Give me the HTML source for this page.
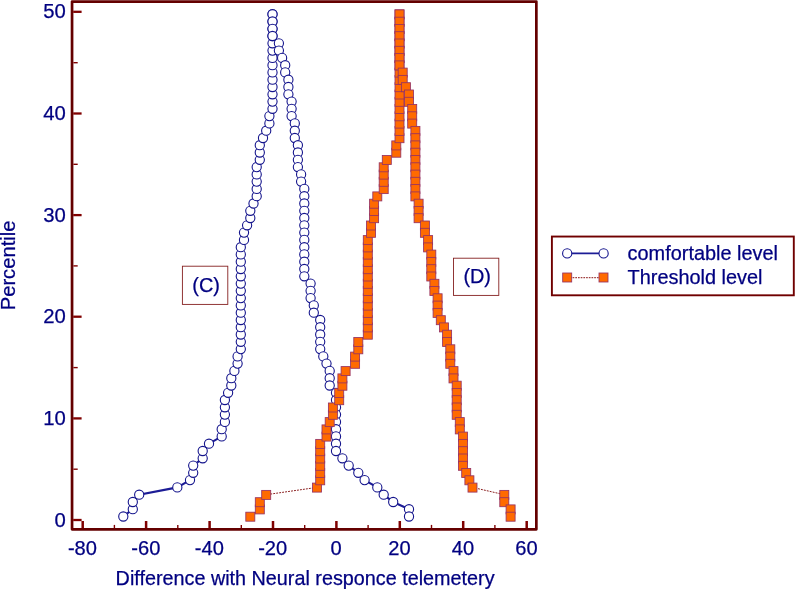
<!DOCTYPE html>
<html><head><meta charset="utf-8"><title>Percentile plot</title>
<style>html,body{margin:0;padding:0;background:#fff}svg{display:block}</style></head>
<body>
<svg width="795" height="589" viewBox="0 0 795 589" font-family="'Liberation Sans', Arial, sans-serif" font-size="19.9px" fill="#000080" stroke="#000080" stroke-width="0">
<rect width="795" height="589" fill="#fff"/>
<polyline fill="none" stroke="#1c1c96" stroke-width="2.1" points="123.3,516.5 132.8,509.2 132.8,502.0 139.2,494.7 177.3,487.4 190.0,480.1 193.2,472.8 193.2,465.6 202.7,458.3 202.7,451.0 209.0,443.7 221.7,436.4 221.7,429.2 224.9,421.9 224.9,414.6 224.9,407.3 224.9,400.0 228.1,392.8 231.3,385.5 231.3,378.2 234.4,370.9 237.6,363.6 237.6,356.4 240.8,349.1 240.8,341.8 240.8,334.5 240.8,327.2 240.8,320.0 240.8,312.7 240.8,305.4 240.8,298.1 240.8,290.8 240.8,283.6 240.8,276.3 240.8,269.0 240.8,261.7 240.8,254.4 240.8,247.2 244.0,239.9 244.0,232.6 247.1,225.3 250.3,218.0 250.3,210.8 253.5,203.5 256.7,196.2 256.7,188.9 256.7,181.6 256.7,174.4 256.7,167.1 259.8,159.8 259.8,152.5 259.8,145.2 263.0,138.0 266.2,130.7 269.4,123.4 269.4,116.1 272.5,108.8 272.5,101.6 272.5,94.3 272.5,87.0 272.5,79.7 272.5,72.4 272.5,65.2 272.5,57.9 272.5,50.6 272.5,43.3 272.5,36.0 272.5,28.8 272.5,21.5 272.5,14.2 272.5,14.2 272.5,21.5 272.5,28.8 272.5,36.0 278.9,43.3 278.9,50.6 282.1,57.9 285.2,65.2 285.2,72.4 288.4,79.7 288.4,87.0 288.4,94.3 291.6,101.6 291.6,108.8 291.6,116.1 294.8,123.4 294.8,130.7 294.8,138.0 297.9,145.2 297.9,152.5 297.9,159.8 297.9,167.1 301.1,174.4 301.1,181.6 304.3,188.9 304.3,196.2 304.3,203.5 304.3,210.8 304.3,218.0 304.3,225.3 304.3,232.6 304.3,239.9 304.3,247.2 304.3,254.4 304.3,261.7 304.3,269.0 304.3,276.3 310.6,283.6 310.6,290.8 310.6,298.1 313.8,305.4 313.8,312.7 320.2,320.0 320.2,327.2 320.2,334.5 320.2,341.8 320.2,349.1 323.3,356.4 326.5,363.6 329.7,370.9 329.7,378.2 329.7,385.5 336.0,392.8 336.0,400.0 336.0,407.3 336.0,414.6 336.0,421.9 336.0,429.2 336.0,436.4 336.0,443.7 336.0,451.0 342.4,458.3 348.7,465.6 358.3,472.8 364.6,480.1 377.3,487.4 383.7,494.7 393.2,502.0 409.0,509.2 409.0,516.5"/>
<g fill="#fff" stroke="#14148c" stroke-width="1.1">
<circle cx="123.3" cy="516.5" r="4.6"/>
<circle cx="132.8" cy="509.2" r="4.6"/>
<circle cx="132.8" cy="502.0" r="4.6"/>
<circle cx="139.2" cy="494.7" r="4.6"/>
<circle cx="177.3" cy="487.4" r="4.6"/>
<circle cx="190.0" cy="480.1" r="4.6"/>
<circle cx="193.2" cy="472.8" r="4.6"/>
<circle cx="193.2" cy="465.6" r="4.6"/>
<circle cx="202.7" cy="458.3" r="4.6"/>
<circle cx="202.7" cy="451.0" r="4.6"/>
<circle cx="209.0" cy="443.7" r="4.6"/>
<circle cx="221.7" cy="436.4" r="4.6"/>
<circle cx="221.7" cy="429.2" r="4.6"/>
<circle cx="224.9" cy="421.9" r="4.6"/>
<circle cx="224.9" cy="414.6" r="4.6"/>
<circle cx="224.9" cy="407.3" r="4.6"/>
<circle cx="224.9" cy="400.0" r="4.6"/>
<circle cx="228.1" cy="392.8" r="4.6"/>
<circle cx="231.3" cy="385.5" r="4.6"/>
<circle cx="231.3" cy="378.2" r="4.6"/>
<circle cx="234.4" cy="370.9" r="4.6"/>
<circle cx="237.6" cy="363.6" r="4.6"/>
<circle cx="237.6" cy="356.4" r="4.6"/>
<circle cx="240.8" cy="349.1" r="4.6"/>
<circle cx="240.8" cy="341.8" r="4.6"/>
<circle cx="240.8" cy="334.5" r="4.6"/>
<circle cx="240.8" cy="327.2" r="4.6"/>
<circle cx="240.8" cy="320.0" r="4.6"/>
<circle cx="240.8" cy="312.7" r="4.6"/>
<circle cx="240.8" cy="305.4" r="4.6"/>
<circle cx="240.8" cy="298.1" r="4.6"/>
<circle cx="240.8" cy="290.8" r="4.6"/>
<circle cx="240.8" cy="283.6" r="4.6"/>
<circle cx="240.8" cy="276.3" r="4.6"/>
<circle cx="240.8" cy="269.0" r="4.6"/>
<circle cx="240.8" cy="261.7" r="4.6"/>
<circle cx="240.8" cy="254.4" r="4.6"/>
<circle cx="240.8" cy="247.2" r="4.6"/>
<circle cx="244.0" cy="239.9" r="4.6"/>
<circle cx="244.0" cy="232.6" r="4.6"/>
<circle cx="247.1" cy="225.3" r="4.6"/>
<circle cx="250.3" cy="218.0" r="4.6"/>
<circle cx="250.3" cy="210.8" r="4.6"/>
<circle cx="253.5" cy="203.5" r="4.6"/>
<circle cx="256.7" cy="196.2" r="4.6"/>
<circle cx="256.7" cy="188.9" r="4.6"/>
<circle cx="256.7" cy="181.6" r="4.6"/>
<circle cx="256.7" cy="174.4" r="4.6"/>
<circle cx="256.7" cy="167.1" r="4.6"/>
<circle cx="259.8" cy="159.8" r="4.6"/>
<circle cx="259.8" cy="152.5" r="4.6"/>
<circle cx="259.8" cy="145.2" r="4.6"/>
<circle cx="263.0" cy="138.0" r="4.6"/>
<circle cx="266.2" cy="130.7" r="4.6"/>
<circle cx="269.4" cy="123.4" r="4.6"/>
<circle cx="269.4" cy="116.1" r="4.6"/>
<circle cx="272.5" cy="108.8" r="4.6"/>
<circle cx="272.5" cy="101.6" r="4.6"/>
<circle cx="272.5" cy="94.3" r="4.6"/>
<circle cx="272.5" cy="87.0" r="4.6"/>
<circle cx="272.5" cy="79.7" r="4.6"/>
<circle cx="272.5" cy="72.4" r="4.6"/>
<circle cx="272.5" cy="65.2" r="4.6"/>
<circle cx="272.5" cy="57.9" r="4.6"/>
<circle cx="272.5" cy="50.6" r="4.6"/>
<circle cx="272.5" cy="43.3" r="4.6"/>
<circle cx="272.5" cy="36.0" r="4.6"/>
<circle cx="272.5" cy="28.8" r="4.6"/>
<circle cx="272.5" cy="21.5" r="4.6"/>
<circle cx="272.5" cy="14.2" r="4.6"/>
<circle cx="272.5" cy="14.2" r="4.6"/>
<circle cx="272.5" cy="21.5" r="4.6"/>
<circle cx="272.5" cy="28.8" r="4.6"/>
<circle cx="272.5" cy="36.0" r="4.6"/>
<circle cx="278.9" cy="43.3" r="4.6"/>
<circle cx="278.9" cy="50.6" r="4.6"/>
<circle cx="282.1" cy="57.9" r="4.6"/>
<circle cx="285.2" cy="65.2" r="4.6"/>
<circle cx="285.2" cy="72.4" r="4.6"/>
<circle cx="288.4" cy="79.7" r="4.6"/>
<circle cx="288.4" cy="87.0" r="4.6"/>
<circle cx="288.4" cy="94.3" r="4.6"/>
<circle cx="291.6" cy="101.6" r="4.6"/>
<circle cx="291.6" cy="108.8" r="4.6"/>
<circle cx="291.6" cy="116.1" r="4.6"/>
<circle cx="294.8" cy="123.4" r="4.6"/>
<circle cx="294.8" cy="130.7" r="4.6"/>
<circle cx="294.8" cy="138.0" r="4.6"/>
<circle cx="297.9" cy="145.2" r="4.6"/>
<circle cx="297.9" cy="152.5" r="4.6"/>
<circle cx="297.9" cy="159.8" r="4.6"/>
<circle cx="297.9" cy="167.1" r="4.6"/>
<circle cx="301.1" cy="174.4" r="4.6"/>
<circle cx="301.1" cy="181.6" r="4.6"/>
<circle cx="304.3" cy="188.9" r="4.6"/>
<circle cx="304.3" cy="196.2" r="4.6"/>
<circle cx="304.3" cy="203.5" r="4.6"/>
<circle cx="304.3" cy="210.8" r="4.6"/>
<circle cx="304.3" cy="218.0" r="4.6"/>
<circle cx="304.3" cy="225.3" r="4.6"/>
<circle cx="304.3" cy="232.6" r="4.6"/>
<circle cx="304.3" cy="239.9" r="4.6"/>
<circle cx="304.3" cy="247.2" r="4.6"/>
<circle cx="304.3" cy="254.4" r="4.6"/>
<circle cx="304.3" cy="261.7" r="4.6"/>
<circle cx="304.3" cy="269.0" r="4.6"/>
<circle cx="304.3" cy="276.3" r="4.6"/>
<circle cx="310.6" cy="283.6" r="4.6"/>
<circle cx="310.6" cy="290.8" r="4.6"/>
<circle cx="310.6" cy="298.1" r="4.6"/>
<circle cx="313.8" cy="305.4" r="4.6"/>
<circle cx="313.8" cy="312.7" r="4.6"/>
<circle cx="320.2" cy="320.0" r="4.6"/>
<circle cx="320.2" cy="327.2" r="4.6"/>
<circle cx="320.2" cy="334.5" r="4.6"/>
<circle cx="320.2" cy="341.8" r="4.6"/>
<circle cx="320.2" cy="349.1" r="4.6"/>
<circle cx="323.3" cy="356.4" r="4.6"/>
<circle cx="326.5" cy="363.6" r="4.6"/>
<circle cx="329.7" cy="370.9" r="4.6"/>
<circle cx="329.7" cy="378.2" r="4.6"/>
<circle cx="329.7" cy="385.5" r="4.6"/>
<circle cx="336.0" cy="392.8" r="4.6"/>
<circle cx="336.0" cy="400.0" r="4.6"/>
<circle cx="336.0" cy="407.3" r="4.6"/>
<circle cx="336.0" cy="414.6" r="4.6"/>
<circle cx="336.0" cy="421.9" r="4.6"/>
<circle cx="336.0" cy="429.2" r="4.6"/>
<circle cx="336.0" cy="436.4" r="4.6"/>
<circle cx="336.0" cy="443.7" r="4.6"/>
<circle cx="336.0" cy="451.0" r="4.6"/>
<circle cx="342.4" cy="458.3" r="4.6"/>
<circle cx="348.7" cy="465.6" r="4.6"/>
<circle cx="358.3" cy="472.8" r="4.6"/>
<circle cx="364.6" cy="480.1" r="4.6"/>
<circle cx="377.3" cy="487.4" r="4.6"/>
<circle cx="383.7" cy="494.7" r="4.6"/>
<circle cx="393.2" cy="502.0" r="4.6"/>
<circle cx="409.0" cy="509.2" r="4.6"/>
<circle cx="409.0" cy="516.5" r="4.6"/>
</g>
<polyline fill="none" stroke="#8b2020" stroke-width="1" stroke-dasharray="1.9 1.1" points="250.3,516.5 259.8,509.2 259.8,502.0 266.2,494.7 317.0,487.4 320.2,480.1 320.2,472.8 320.2,465.6 320.2,458.3 320.2,451.0 320.2,443.7 326.5,436.4 326.5,429.2 329.7,421.9 332.9,414.6 332.9,407.3 339.2,400.0 339.2,392.8 342.4,385.5 342.4,378.2 345.6,370.9 355.1,363.6 355.1,356.4 358.3,349.1 358.3,341.8 367.8,334.5 367.8,327.2 367.8,320.0 367.8,312.7 367.8,305.4 367.8,298.1 367.8,290.8 367.8,283.6 367.8,276.3 367.8,269.0 367.8,261.7 367.8,254.4 367.8,247.2 367.8,239.9 371.0,232.6 371.0,225.3 374.1,218.0 374.1,210.8 374.1,203.5 377.3,196.2 383.7,188.9 383.7,181.6 383.7,174.4 383.7,167.1 386.8,159.8 396.3,152.5 396.3,145.2 399.5,138.0 399.5,130.7 399.5,123.4 399.5,116.1 399.5,108.8 399.5,101.6 399.5,94.3 399.5,87.0 399.5,79.7 399.5,72.4 399.5,65.2 399.5,57.9 399.5,50.6 399.5,43.3 399.5,36.0 399.5,28.8 399.5,21.5 399.5,14.2 399.5,14.2 399.5,21.5 399.5,28.8 399.5,36.0 399.5,43.3 399.5,50.6 399.5,57.9 399.5,65.2 402.7,72.4 402.7,79.7 405.9,87.0 409.0,94.3 409.0,101.6 412.2,108.8 412.2,116.1 412.2,123.4 415.4,130.7 415.4,138.0 415.4,145.2 415.4,152.5 415.4,159.8 415.4,167.1 415.4,174.4 415.4,181.6 415.4,188.9 415.4,196.2 418.6,203.5 418.6,210.8 418.6,218.0 424.9,225.3 424.9,232.6 428.1,239.9 428.1,247.2 431.3,254.4 431.3,261.7 431.3,269.0 431.3,276.3 434.4,283.6 434.4,290.8 437.6,298.1 437.6,305.4 437.6,312.7 440.8,320.0 444.0,327.2 447.1,334.5 447.1,341.8 450.3,349.1 450.3,356.4 450.3,363.6 453.5,370.9 453.5,378.2 456.7,385.5 456.7,392.8 456.7,400.0 456.7,407.3 456.7,414.6 459.8,421.9 459.8,429.2 463.0,436.4 463.0,443.7 463.0,451.0 463.0,458.3 463.0,465.6 466.2,472.8 469.4,480.1 472.5,487.4 504.3,494.7 504.3,502.0 510.6,509.2 510.6,516.5"/>
<g fill="#ff6a00" stroke="#963264" stroke-width="0.85">
<rect x="245.8" y="512.2" width="9" height="9"/>
<rect x="255.3" y="504.9" width="9" height="9"/>
<rect x="255.3" y="497.7" width="9" height="9"/>
<rect x="261.7" y="490.4" width="9" height="9"/>
<rect x="312.5" y="483.1" width="9" height="9"/>
<rect x="315.7" y="475.8" width="9" height="9"/>
<rect x="315.7" y="468.5" width="9" height="9"/>
<rect x="315.7" y="461.3" width="9" height="9"/>
<rect x="315.7" y="454.0" width="9" height="9"/>
<rect x="315.7" y="446.7" width="9" height="9"/>
<rect x="315.7" y="439.4" width="9" height="9"/>
<rect x="322.0" y="432.1" width="9" height="9"/>
<rect x="322.0" y="424.9" width="9" height="9"/>
<rect x="325.2" y="417.6" width="9" height="9"/>
<rect x="328.4" y="410.3" width="9" height="9"/>
<rect x="328.4" y="403.0" width="9" height="9"/>
<rect x="334.7" y="395.7" width="9" height="9"/>
<rect x="334.7" y="388.5" width="9" height="9"/>
<rect x="337.9" y="381.2" width="9" height="9"/>
<rect x="337.9" y="373.9" width="9" height="9"/>
<rect x="341.1" y="366.6" width="9" height="9"/>
<rect x="350.6" y="359.3" width="9" height="9"/>
<rect x="350.6" y="352.1" width="9" height="9"/>
<rect x="353.8" y="344.8" width="9" height="9"/>
<rect x="353.8" y="337.5" width="9" height="9"/>
<rect x="363.3" y="330.2" width="9" height="9"/>
<rect x="363.3" y="322.9" width="9" height="9"/>
<rect x="363.3" y="315.7" width="9" height="9"/>
<rect x="363.3" y="308.4" width="9" height="9"/>
<rect x="363.3" y="301.1" width="9" height="9"/>
<rect x="363.3" y="293.8" width="9" height="9"/>
<rect x="363.3" y="286.5" width="9" height="9"/>
<rect x="363.3" y="279.3" width="9" height="9"/>
<rect x="363.3" y="272.0" width="9" height="9"/>
<rect x="363.3" y="264.7" width="9" height="9"/>
<rect x="363.3" y="257.4" width="9" height="9"/>
<rect x="363.3" y="250.1" width="9" height="9"/>
<rect x="363.3" y="242.9" width="9" height="9"/>
<rect x="363.3" y="235.6" width="9" height="9"/>
<rect x="366.5" y="228.3" width="9" height="9"/>
<rect x="366.5" y="221.0" width="9" height="9"/>
<rect x="369.6" y="213.7" width="9" height="9"/>
<rect x="369.6" y="206.5" width="9" height="9"/>
<rect x="369.6" y="199.2" width="9" height="9"/>
<rect x="372.8" y="191.9" width="9" height="9"/>
<rect x="379.2" y="184.6" width="9" height="9"/>
<rect x="379.2" y="177.3" width="9" height="9"/>
<rect x="379.2" y="170.1" width="9" height="9"/>
<rect x="379.2" y="162.8" width="9" height="9"/>
<rect x="382.3" y="155.5" width="9" height="9"/>
<rect x="391.8" y="148.2" width="9" height="9"/>
<rect x="391.8" y="140.9" width="9" height="9"/>
<rect x="395.0" y="133.7" width="9" height="9"/>
<rect x="395.0" y="126.4" width="9" height="9"/>
<rect x="395.0" y="119.1" width="9" height="9"/>
<rect x="395.0" y="111.8" width="9" height="9"/>
<rect x="395.0" y="104.5" width="9" height="9"/>
<rect x="395.0" y="97.3" width="9" height="9"/>
<rect x="395.0" y="90.0" width="9" height="9"/>
<rect x="395.0" y="82.7" width="9" height="9"/>
<rect x="395.0" y="75.4" width="9" height="9"/>
<rect x="395.0" y="68.1" width="9" height="9"/>
<rect x="395.0" y="60.9" width="9" height="9"/>
<rect x="395.0" y="53.6" width="9" height="9"/>
<rect x="395.0" y="46.3" width="9" height="9"/>
<rect x="395.0" y="39.0" width="9" height="9"/>
<rect x="395.0" y="31.7" width="9" height="9"/>
<rect x="395.0" y="24.5" width="9" height="9"/>
<rect x="395.0" y="17.2" width="9" height="9"/>
<rect x="395.0" y="9.9" width="9" height="9"/>
<rect x="395.0" y="9.9" width="9" height="9"/>
<rect x="395.0" y="17.2" width="9" height="9"/>
<rect x="395.0" y="24.5" width="9" height="9"/>
<rect x="395.0" y="31.7" width="9" height="9"/>
<rect x="395.0" y="39.0" width="9" height="9"/>
<rect x="395.0" y="46.3" width="9" height="9"/>
<rect x="395.0" y="53.6" width="9" height="9"/>
<rect x="395.0" y="60.9" width="9" height="9"/>
<rect x="398.2" y="68.1" width="9" height="9"/>
<rect x="398.2" y="75.4" width="9" height="9"/>
<rect x="401.4" y="82.7" width="9" height="9"/>
<rect x="404.5" y="90.0" width="9" height="9"/>
<rect x="404.5" y="97.3" width="9" height="9"/>
<rect x="407.7" y="104.5" width="9" height="9"/>
<rect x="407.7" y="111.8" width="9" height="9"/>
<rect x="407.7" y="119.1" width="9" height="9"/>
<rect x="410.9" y="126.4" width="9" height="9"/>
<rect x="410.9" y="133.7" width="9" height="9"/>
<rect x="410.9" y="140.9" width="9" height="9"/>
<rect x="410.9" y="148.2" width="9" height="9"/>
<rect x="410.9" y="155.5" width="9" height="9"/>
<rect x="410.9" y="162.8" width="9" height="9"/>
<rect x="410.9" y="170.1" width="9" height="9"/>
<rect x="410.9" y="177.3" width="9" height="9"/>
<rect x="410.9" y="184.6" width="9" height="9"/>
<rect x="410.9" y="191.9" width="9" height="9"/>
<rect x="414.1" y="199.2" width="9" height="9"/>
<rect x="414.1" y="206.5" width="9" height="9"/>
<rect x="414.1" y="213.7" width="9" height="9"/>
<rect x="420.4" y="221.0" width="9" height="9"/>
<rect x="420.4" y="228.3" width="9" height="9"/>
<rect x="423.6" y="235.6" width="9" height="9"/>
<rect x="423.6" y="242.9" width="9" height="9"/>
<rect x="426.8" y="250.1" width="9" height="9"/>
<rect x="426.8" y="257.4" width="9" height="9"/>
<rect x="426.8" y="264.7" width="9" height="9"/>
<rect x="426.8" y="272.0" width="9" height="9"/>
<rect x="429.9" y="279.3" width="9" height="9"/>
<rect x="429.9" y="286.5" width="9" height="9"/>
<rect x="433.1" y="293.8" width="9" height="9"/>
<rect x="433.1" y="301.1" width="9" height="9"/>
<rect x="433.1" y="308.4" width="9" height="9"/>
<rect x="436.3" y="315.7" width="9" height="9"/>
<rect x="439.5" y="322.9" width="9" height="9"/>
<rect x="442.6" y="330.2" width="9" height="9"/>
<rect x="442.6" y="337.5" width="9" height="9"/>
<rect x="445.8" y="344.8" width="9" height="9"/>
<rect x="445.8" y="352.1" width="9" height="9"/>
<rect x="445.8" y="359.3" width="9" height="9"/>
<rect x="449.0" y="366.6" width="9" height="9"/>
<rect x="449.0" y="373.9" width="9" height="9"/>
<rect x="452.2" y="381.2" width="9" height="9"/>
<rect x="452.2" y="388.5" width="9" height="9"/>
<rect x="452.2" y="395.7" width="9" height="9"/>
<rect x="452.2" y="403.0" width="9" height="9"/>
<rect x="452.2" y="410.3" width="9" height="9"/>
<rect x="455.3" y="417.6" width="9" height="9"/>
<rect x="455.3" y="424.9" width="9" height="9"/>
<rect x="458.5" y="432.1" width="9" height="9"/>
<rect x="458.5" y="439.4" width="9" height="9"/>
<rect x="458.5" y="446.7" width="9" height="9"/>
<rect x="458.5" y="454.0" width="9" height="9"/>
<rect x="458.5" y="461.3" width="9" height="9"/>
<rect x="461.7" y="468.5" width="9" height="9"/>
<rect x="464.9" y="475.8" width="9" height="9"/>
<rect x="468.0" y="483.1" width="9" height="9"/>
<rect x="499.8" y="490.4" width="9" height="9"/>
<rect x="499.8" y="497.7" width="9" height="9"/>
<rect x="506.1" y="504.9" width="9" height="9"/>
<rect x="506.1" y="512.2" width="9" height="9"/>
</g>
<rect x="72.05" y="1.55" width="464.3" height="527.8" fill="none" stroke="#640000" stroke-width="2.7" stroke-linejoin="round"/>
<g stroke="#800000">
<line x1="73.2" x2="81.6" y1="520.0" y2="520.0" stroke-width="2.3"/>
<line x1="73.4" x2="77.7" y1="469.2" y2="469.2" stroke-width="1.4"/>
<line x1="73.2" x2="81.6" y1="418.4" y2="418.4" stroke-width="2.3"/>
<line x1="73.4" x2="77.7" y1="367.6" y2="367.6" stroke-width="1.4"/>
<line x1="73.2" x2="81.6" y1="316.7" y2="316.7" stroke-width="2.3"/>
<line x1="73.4" x2="77.7" y1="265.9" y2="265.9" stroke-width="1.4"/>
<line x1="73.2" x2="81.6" y1="215.1" y2="215.1" stroke-width="2.3"/>
<line x1="73.4" x2="77.7" y1="164.3" y2="164.3" stroke-width="1.4"/>
<line x1="73.2" x2="81.6" y1="113.5" y2="113.5" stroke-width="2.3"/>
<line x1="73.4" x2="77.7" y1="62.7" y2="62.7" stroke-width="1.4"/>
<line x1="73.2" x2="81.6" y1="11.8" y2="11.8" stroke-width="2.3"/>
<line y1="528.2" y2="521" x1="82.7" x2="82.7" stroke-width="2.5"/>
<line y1="528.2" y2="524.9" x1="114.4" x2="114.4" stroke-width="1.4"/>
<line y1="528.2" y2="521" x1="146.1" x2="146.1" stroke-width="2.5"/>
<line y1="528.2" y2="524.9" x1="177.8" x2="177.8" stroke-width="1.4"/>
<line y1="528.2" y2="521" x1="209.6" x2="209.6" stroke-width="2.5"/>
<line y1="528.2" y2="524.9" x1="241.3" x2="241.3" stroke-width="1.4"/>
<line y1="528.2" y2="521" x1="273.0" x2="273.0" stroke-width="2.5"/>
<line y1="528.2" y2="524.9" x1="304.7" x2="304.7" stroke-width="1.4"/>
<line y1="528.2" y2="521" x1="336.4" x2="336.4" stroke-width="2.5"/>
<line y1="528.2" y2="524.9" x1="368.1" x2="368.1" stroke-width="1.4"/>
<line y1="528.2" y2="521" x1="399.8" x2="399.8" stroke-width="2.5"/>
<line y1="528.2" y2="524.9" x1="431.5" x2="431.5" stroke-width="1.4"/>
<line y1="528.2" y2="521" x1="463.2" x2="463.2" stroke-width="2.5"/>
<line y1="528.2" y2="524.9" x1="494.9" x2="494.9" stroke-width="1.4"/>
<line y1="528.2" y2="521" x1="526.7" x2="526.7" stroke-width="2.5"/>
</g>
<g text-anchor="end" font-size="20.3px" stroke-width="0.25">
<text x="65.8" y="526.6">0</text>
<text x="65.8" y="425.0">10</text>
<text x="65.8" y="323.3">20</text>
<text x="65.8" y="221.7">30</text>
<text x="65.8" y="120.1">40</text>
<text x="65.8" y="18.4">50</text>
</g><g text-anchor="middle" font-size="20.1px" stroke-width="0.25">
<text x="82.4" y="555.2">-80</text>
<text x="145.8" y="555.2">-60</text>
<text x="209.3" y="555.2">-40</text>
<text x="272.7" y="555.2">-20</text>
<text x="336.1" y="555.2">0</text>
<text x="399.5" y="555.2">20</text>
<text x="462.9" y="555.2">40</text>
<text x="526.4" y="555.2">60</text>
</g>
<text x="305.1" y="585.4" text-anchor="middle" font-size="19.8px" stroke-width="0.25">Difference with Neural responce telemetery</text>
<text transform="translate(15,265.4) rotate(-90)" text-anchor="middle" font-size="20.2px" stroke-width="0.25">Percentile</text>
<rect x="182.4" y="266.2" width="45.4" height="38.2" fill="#fff" stroke="#852020" stroke-width="0.9"/>
<text x="206.1" y="291.7" text-anchor="middle" stroke-width="0.25">(C)</text>
<rect x="453.5" y="258.2" width="45.3" height="37.2" fill="#fff" stroke="#852020" stroke-width="0.9"/>
<text x="477.2" y="283.4" text-anchor="middle" stroke-width="0.25">(D)</text>
<rect x="551.9" y="236.55" width="241.9" height="58.75" fill="#fff" stroke="#700000" stroke-width="1.9"/>
<line x1="567.2" x2="603.6" y1="253.4" y2="253.4" stroke="#1c1c96" stroke-width="1.6"/>
<g fill="#fff" stroke="#14148c" stroke-width="1.1"><circle cx="567.2" cy="253.4" r="4.6"/><circle cx="603.6" cy="253.4" r="4.6"/></g>
<line x1="567.2" x2="603.6" y1="277.6" y2="277.6" stroke="#a04040" stroke-width="1.3" stroke-dasharray="1.7 1"/>
<g fill="#ff6a00" stroke="#963264" stroke-width="0.85"><rect x="562.7" y="273" width="9" height="9"/><rect x="599" y="273" width="9" height="9"/></g>
<text x="627.6" y="259.7" font-size="19.9px" stroke-width="0.25">comfortable level</text>
<text x="627.6" y="284" font-size="19.9px" stroke-width="0.25">Threshold level</text>
</svg>
</body></html>
